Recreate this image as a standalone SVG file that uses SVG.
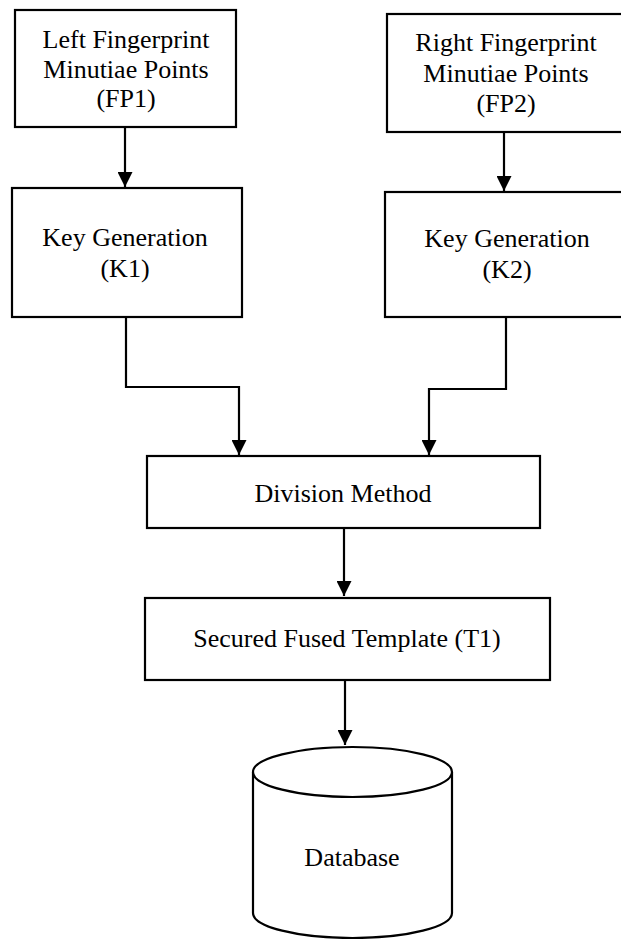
<svg xmlns="http://www.w3.org/2000/svg" width="621" height="939" viewBox="0 0 621 939">
<style>
.box{fill:#fff;stroke:#000;stroke-width:2.2}
.lbl{font-family:"Liberation Serif","Times New Roman",serif;font-size:26px;fill:#000;text-anchor:middle}
.con{fill:none;stroke:#000;stroke-width:2.2}
</style>
<defs>
<marker id="ah" markerUnits="userSpaceOnUse" markerWidth="15" markerHeight="15" refX="15" refY="7.5" orient="auto">
<path d="M0,0 L15,7.5 L0,15 z" fill="#000"/>
</marker>
</defs>
<rect width="621" height="939" fill="#fff"/>
<g id="connectors">
<path class="con" d="M125,127 V187" marker-end="url(#ah)"/>
<path class="con" d="M504,132 V191" marker-end="url(#ah)"/>
<path class="con" d="M126,317 V387 H239 V455" marker-end="url(#ah)"/>
<path class="con" d="M506,317 V389 H429 V455" marker-end="url(#ah)"/>
<path class="con" d="M344,528 V596" marker-end="url(#ah)"/>
<path class="con" d="M345,680 V745" marker-end="url(#ah)"/>
</g>
<g id="fp1">
<rect class="box" x="15" y="10" width="221" height="117"/>
<text class="lbl" x="126" y="48">Left Fingerprint</text>
<text class="lbl" x="126" y="78">Minutiae Points</text>
<text class="lbl" x="126" y="107">(FP1)</text>
</g>
<g id="fp2">
<rect class="box" x="387" y="14" width="240" height="118"/>
<text class="lbl" x="506" y="51">Right Fingerprint</text>
<text class="lbl" x="506" y="82">Minutiae Points</text>
<text class="lbl" x="506" y="112">(FP2)</text>
</g>
<g id="k1">
<rect class="box" x="12" y="188" width="230" height="129"/>
<text class="lbl" x="125" y="246">Key Generation</text>
<text class="lbl" x="125" y="277">(K1)</text>
</g>
<g id="k2">
<rect class="box" x="385" y="192" width="245" height="125"/>
<text class="lbl" x="507" y="247">Key Generation</text>
<text class="lbl" x="507" y="278">(K2)</text>
</g>
<g id="division">
<rect class="box" x="147" y="456" width="393" height="72"/>
<text class="lbl" x="343" y="502">Division Method</text>
</g>
<g id="secured">
<rect class="box" x="145" y="598" width="405" height="82"/>
<text class="lbl" x="347" y="647">Secured Fused Template (T1)</text>
</g>
<g id="database">
<path class="box" d="M253,772 V913 A99.5,25 0 0 0 452,913 V772"/>
<ellipse class="box" cx="352.5" cy="772" rx="99.5" ry="25"/>
<text class="lbl" x="352" y="866">Database</text>
</g>
</svg>
